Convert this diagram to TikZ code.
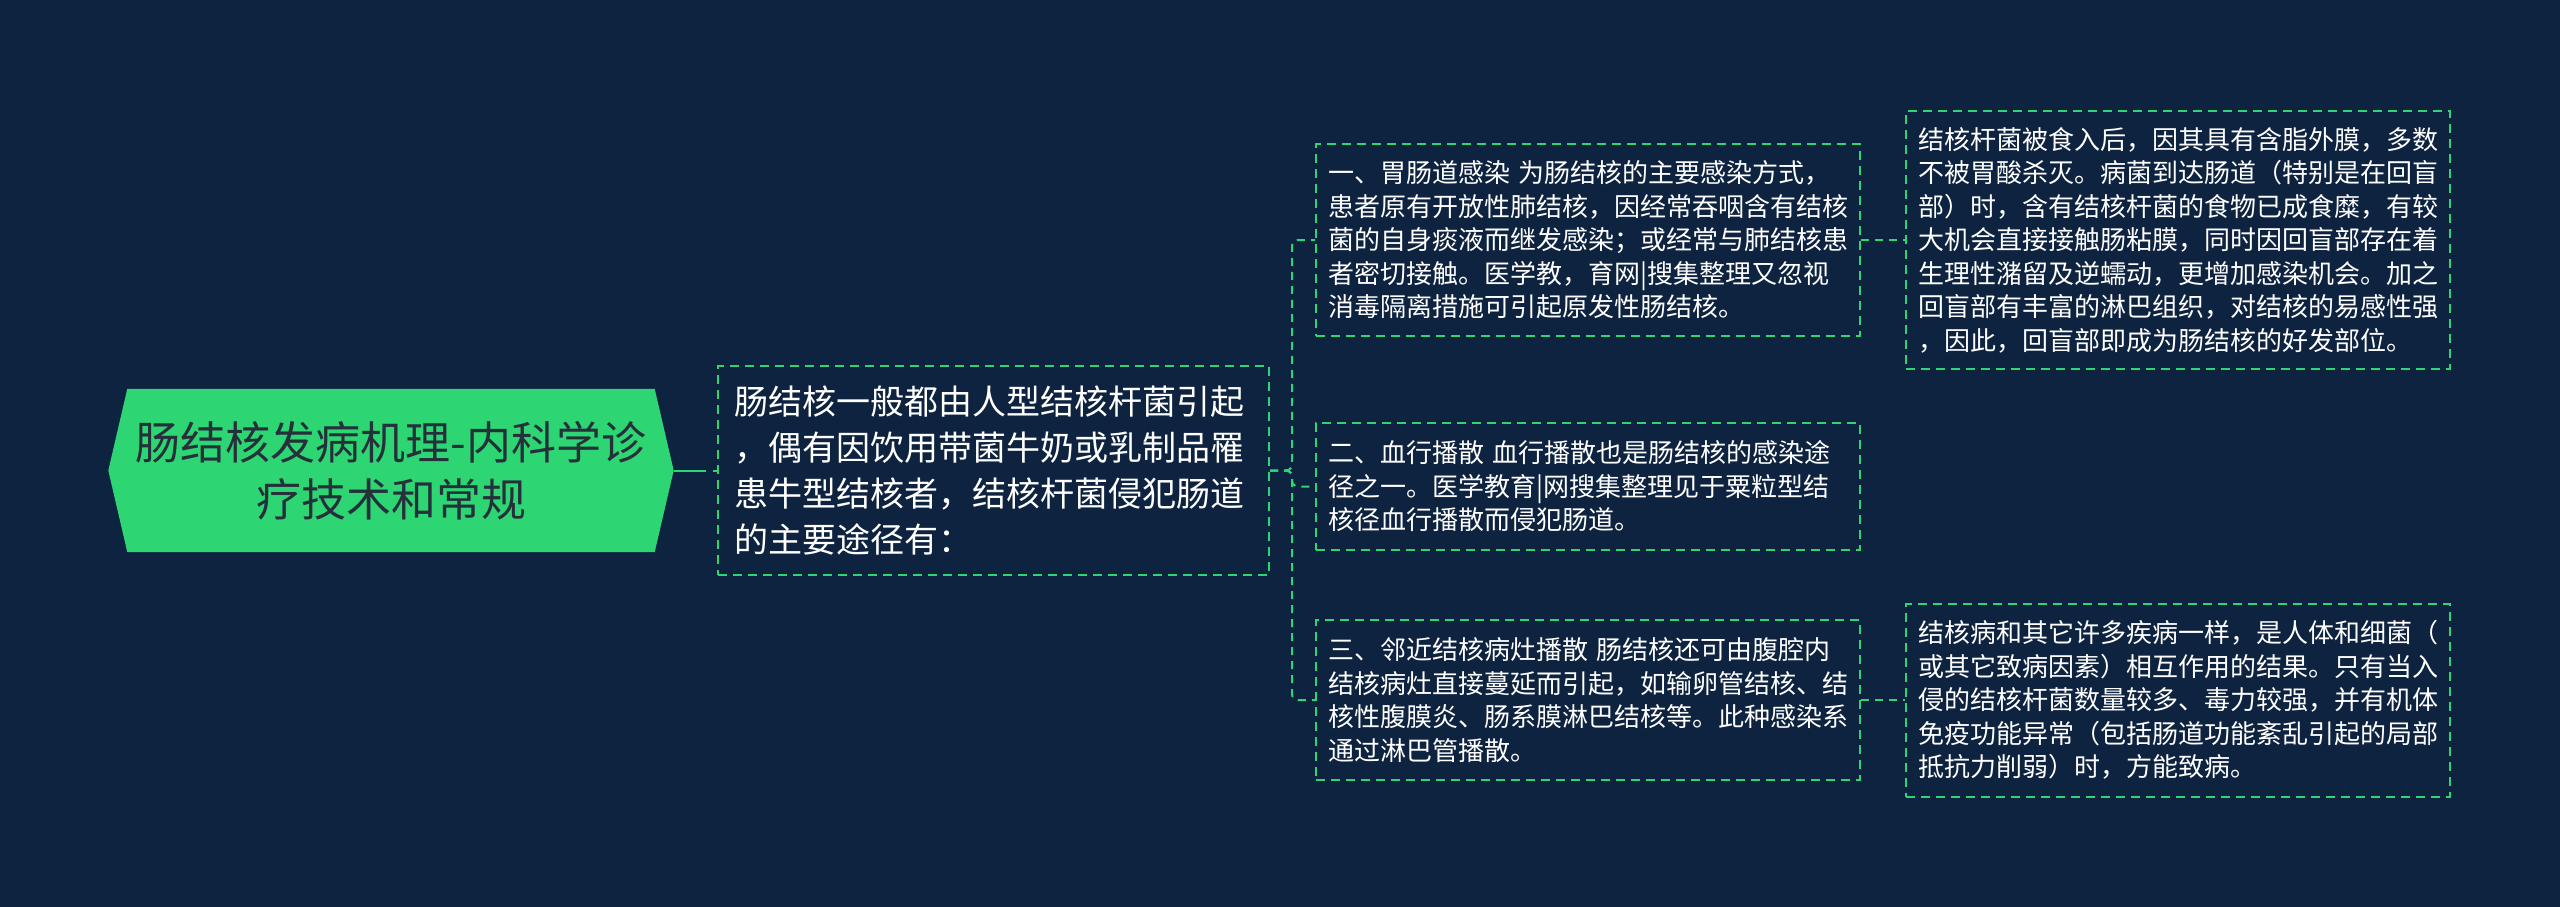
\documentclass[tikz,border=0pt]{standalone}
\usepackage{fontspec}
\newfontfamily\cjk{Noto Sans CJK SC}
\usetikzlibrary{backgrounds}
\definecolor{bgc}{HTML}{0E2340}
\definecolor{gc}{HTML}{2ED573}
\definecolor{roottext}{HTML}{25303B}
\begin{document}
\begin{tikzpicture}[x=1pt,y=-1pt,
  conn/.style={draw=gc, line width=2pt, dash pattern=on 8pt off 6pt, rounded corners=6pt},
  box/.style={draw=gc, line width=2pt, dash pattern=on 9pt off 6pt, text=white, align=left, inner ysep=0pt},
  lvl/.style={box, font=\cjk\fontsize{26}{33.5}\selectfont, text width=520pt, inner xsep=12pt},
  midbox/.style={box, font=\cjk\fontsize{34}{45.7}\selectfont, text width=519pt, inner xsep=16pt, minimum height=209pt},
  rootnode/.style={font=\cjk\fontsize{45}{57}\selectfont, text=roottext, align=center, minimum width=565pt, minimum height=163pt, inner sep=0pt}]
\useasboundingbox (0,0) rectangle (2560,907);

\node[rootnode] (root) at (391,470.5) {肠结核发病机理-内科学诊\\疗技术和常规};

\node[midbox] (mid) at (993.5,470.5) {肠结核一般都由人型结核杆菌引起\\，偶有因饮用带菌牛奶或乳制品罹\\患牛型结核者，结核杆菌侵犯肠道\\的主要途径有：};

\node[lvl, minimum height=192pt] (A) at (1588,240) {一、胃肠道感染 为肠结核的主要感染方式，\\患者原有开放性肺结核，因经常吞咽含有结核\\菌的自身痰液而继发感染；或经常与肺结核患\\者密切接触。医学教，育网|搜集整理又忽视\\消毒隔离措施可引起原发性肠结核。};

\node[lvl, minimum height=127pt] (B) at (1588,486.5) {二、血行播散 血行播散也是肠结核的感染途\\径之一。医学教育|网搜集整理见于粟粒型结\\核径血行播散而侵犯肠道。};

\node[lvl, minimum height=160pt] (C) at (1588,700) {三、邻近结核病灶播散 肠结核还可由腹腔内\\结核病灶直接蔓延而引起，如输卵管结核、结\\核性腹膜炎、肠系膜淋巴结核等。此种感染系\\通过淋巴管播散。};

\node[lvl, minimum height=258pt] (D) at (2178,240) {结核杆菌被食入后，因其具有含脂外膜，多数\\不被胃酸杀灭。病菌到达肠道（特别是在回盲\\部）时，含有结核杆菌的食物已成食糜，有较\\大机会直接接触肠粘膜，同时因回盲部存在着\\生理性潴留及逆蠕动，更增加感染机会。加之\\回盲部有丰富的淋巴组织，对结核的易感性强\\，因此，回盲部即成为肠结核的好发部位。};

\node[lvl, minimum height=193pt] (E) at (2178,700) {结核病和其它许多疾病一样，是人体和细菌（\\或其它致病因素）相互作用的结果。只有当入\\侵的结核杆菌数量较多、毒力较强，并有机体\\免疫功能异常（包括肠道功能紊乱引起的局部\\抵抗力削弱）时，方能致病。};

\begin{scope}[on background layer]
  \fill[bgc] (0,0) rectangle (2560,907);
  \fill[gc] (root.west) -- ([xshift=19pt]root.north west) -- ([xshift=-19pt]root.north east) -- (root.east) -- ([xshift=-19pt]root.south east) -- ([xshift=19pt]root.south west) -- cycle;
\end{scope}

\draw[conn, dash pattern=on 32pt off 7pt] (root.east) -- (mid.west);
\draw[conn] (mid.east) -| ([xshift=-23pt]A.west) -- (A.west);
\draw[conn] (mid.east) -| ([xshift=-23pt]B.west) -- (B.west);
\draw[conn] (mid.east) -| ([xshift=-23pt]C.west) -- (C.west);
\draw[conn] (A.east) -- (D.west);
\draw[conn] (C.east) -- (E.west);
\end{tikzpicture}
\end{document}
